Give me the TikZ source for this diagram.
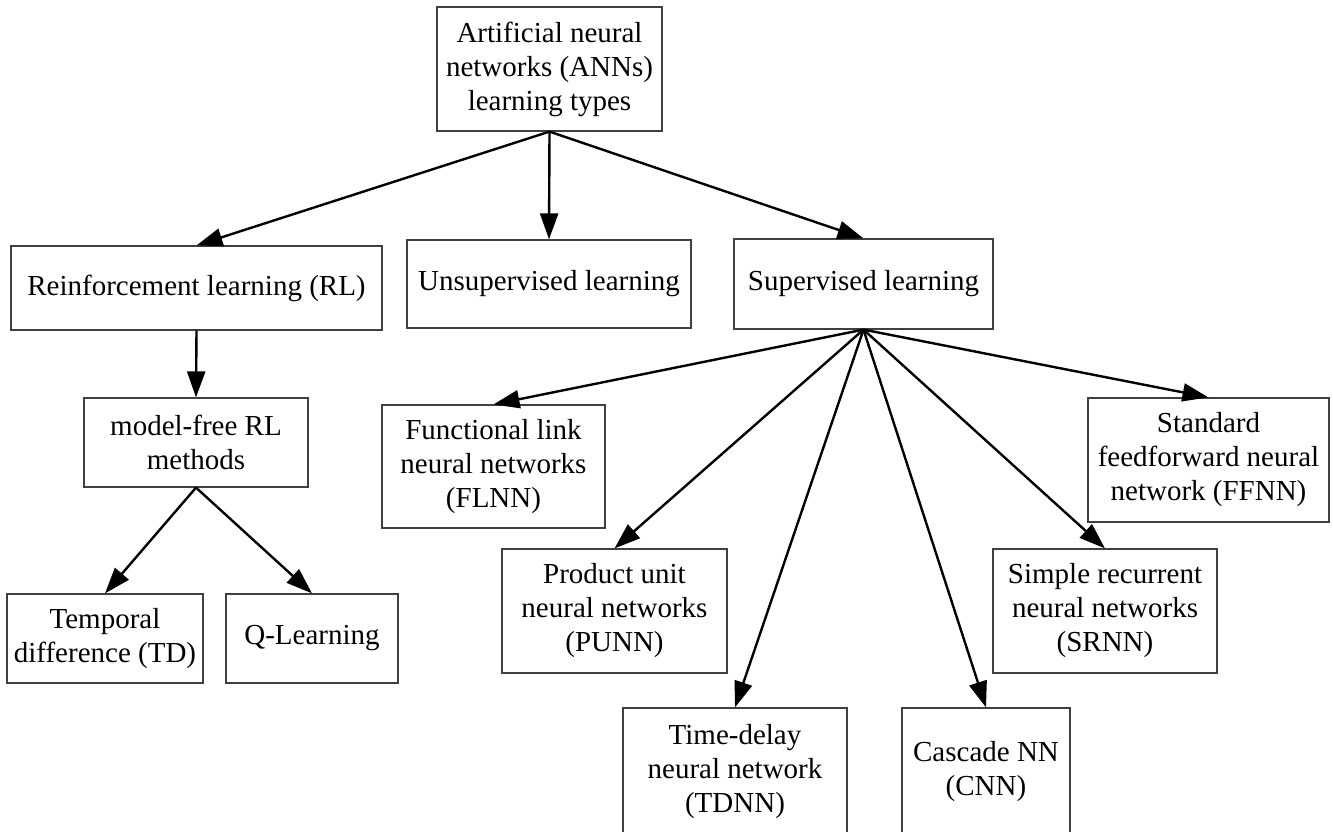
\documentclass[tikz,border=0pt]{standalone}
\usepackage{fontspec}
\setmainfont{Liberation Serif}
\usetikzlibrary{arrows.meta}
\begin{document}
\begin{tikzpicture}[x=1pt,y=-1pt,
  box/.style={draw=black!75, line width=1.2pt, rectangle, align=center,
    inner sep=0pt, font=\fontsize{29}{34}\selectfont},
  link/.style={line width=2.4pt, -{Triangle[length=26pt,width=18pt]}}]
\useasboundingbox (0,0) rectangle (1333,831);
\clip (0,0) rectangle (1333,831);
% nodes: centre, width, height in pixels
\node[box, minimum width=225pt, minimum height=124pt] (root) at (549.5,69) {Artificial neural\\networks (ANNs)\\learning types};
\node[box, minimum width=371pt, minimum height=84pt] (rl) at (196.5,288) {Reinforcement learning (RL)};
\node[box, minimum width=284pt, minimum height=88pt] (unsup) at (549,284) {Unsupervised learning};
\node[box, minimum width=259pt, minimum height=90pt] (sup) at (863.5,284) {Supervised learning};
\node[box, minimum width=224pt, minimum height=89pt] (mf) at (196,442.5) {model-free RL\\methods};
\node[box, minimum width=196pt, minimum height=89pt] (td) at (105,638.5) {Temporal\\difference (TD)};
\node[box, minimum width=172pt, minimum height=89pt] (ql) at (312,638.5) {Q-Learning};
\node[box, minimum width=223pt, minimum height=123pt] (flnn) at (493.5,466.5) {Functional link\\neural networks\\(FLNN)};
\node[box, minimum width=225pt, minimum height=124pt] (punn) at (614.5,611) {Product unit\\neural networks\\(PUNN)};
\node[box, minimum width=224pt, minimum height=124pt] (srnn) at (1105,611) {Simple recurrent\\neural networks\\(SRNN)};
\node[box, minimum width=241pt, minimum height=124pt] (ffnn) at (1208.5,460) {Standard\\feedforward neural\\network (FFNN)};
\node[box, minimum width=224pt, minimum height=128pt] (tdnn) at (735,772) {Time-delay\\neural network\\(TDNN)};
\node[box, minimum width=168pt, minimum height=128pt] (cnn) at (986,772) {Cascade NN\\(CNN)};
% connectors
\draw[link] (root.south) -- (rl.north);
\draw[link] (root.south) -- (unsup.north);
\draw[link] (root.south) -- (sup.north);
\draw[link] (rl.south) -- (mf.north);
\draw[link] (mf.south) -- (td.north);
\draw[link] (mf.south) -- (ql.north);
\draw[link] (sup.south) -- (flnn.north);
\draw[link] (sup.south) -- (punn.north);
\draw[link] (sup.south) -- (tdnn.north);
\draw[link] (sup.south) -- (cnn.north);
\draw[link] (sup.south) -- (srnn.north);
\draw[link] (sup.south) -- (ffnn.north);
\end{tikzpicture}
\end{document}
